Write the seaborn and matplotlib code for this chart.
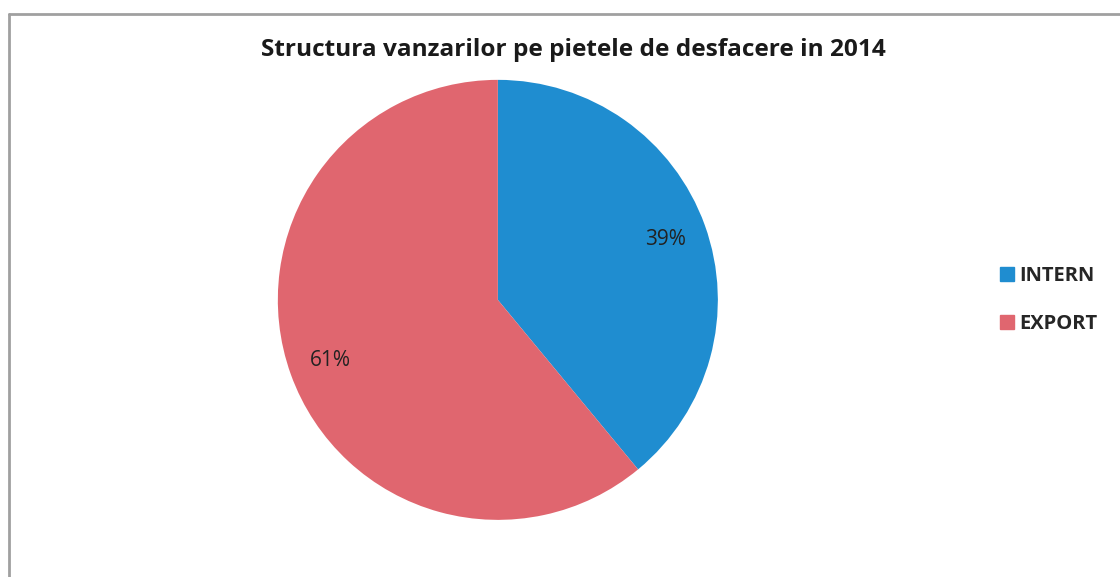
import matplotlib
matplotlib.use("Agg")
import matplotlib.pyplot as plt
from matplotlib.lines import Line2D
import seaborn as sns

# Data
markets = ["INTERN", "EXPORT"]
shares = [39, 61]
colors = ["#1f8dd0", "#e0666f"]

sns.set_theme(style="white")
plt.rcParams["font.family"] = ["Open Sans", "DejaVu Sans"]

fig = plt.figure(figsize=(11.2, 5.77), dpi=100)
ax = fig.add_axes([0.248, 0.099, 0.393, 0.7626])

wedges, texts, autotexts = ax.pie(
    shares, colors=colors, startangle=90, counterclock=False,
    autopct="%d%%", pctdistance=0.81,
    wedgeprops={"linewidth": 0},
    textprops={"fontsize": 15, "color": "#222222"},
)
ax.set_xlim(-1, 1)
ax.set_ylim(-1, 1)
ax.set_aspect("equal")

fig.text(0.512, 0.913, "Structura vanzarilor pe pietele de desfacere in 2014",
         ha="center", va="center", fontsize=17.6, fontweight="bold", color="#1a1a1a")

handles = [Line2D([0], [0], marker="s", linestyle="", markersize=10,
                  markerfacecolor=c, markeredgecolor=c) for c in colors]
fig.legend(handles, markets, loc="center left", bbox_to_anchor=(0.874, 0.48),
           frameon=False, prop={"size": 14.5, "weight": "bold"},
           handletextpad=0.1, labelspacing=1.35, handlelength=1.0)

# chart frame (left and top edges visible)
fig.add_artist(Line2D([0.008, 0.008], [0, 0.976], color="#a0a0a0", lw=2,
                      transform=fig.transFigure))
fig.add_artist(Line2D([0.008, 1.0], [0.976, 0.976], color="#a0a0a0", lw=2,
                      transform=fig.transFigure))

fig.savefig("out.png", dpi=100, facecolor="white")
